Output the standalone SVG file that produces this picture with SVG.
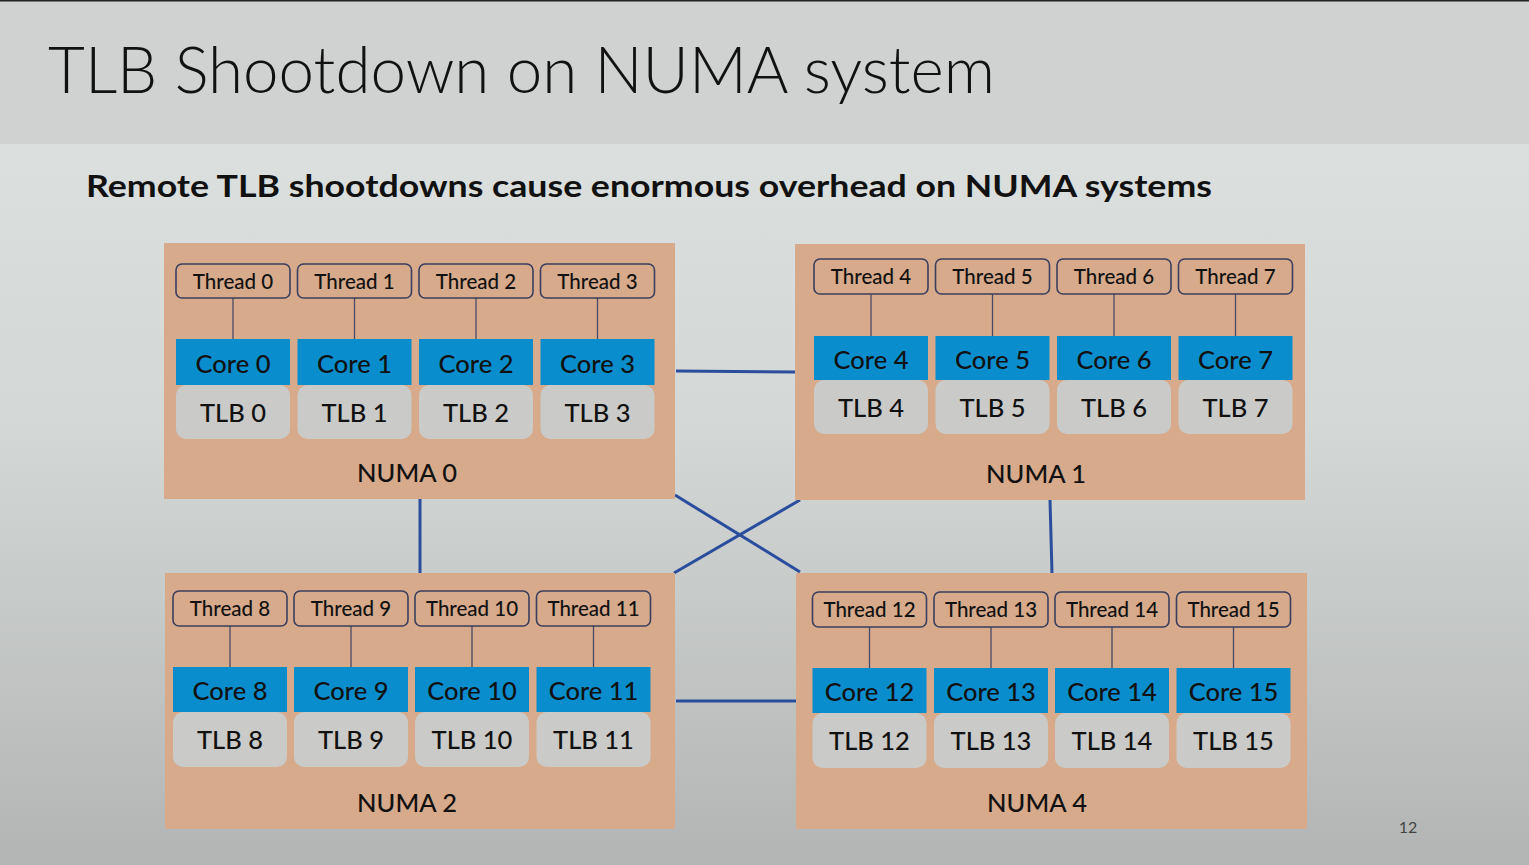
<svg xmlns="http://www.w3.org/2000/svg" width="1529" height="865" viewBox="0 0 1529 865">
<defs>
<linearGradient id="bg" x1="0" y1="0" x2="0" y2="1">
<stop offset="0" stop-color="#dfe3e1"/>
<stop offset="0.5" stop-color="#d3d7d5"/>
<stop offset="1" stop-color="#b2b5b3"/>
</linearGradient>
<style>
.numa{fill:#d6aa8b}
.thr{fill:#d6aa8b;stroke:#3b3f5e;stroke-width:1.6}
.core{fill:#0a8dcc}
.tlb{fill:#cacac8}
.lk{stroke:#4a4a66;stroke-width:1.3}
.t{font-family:Lato,"Noto Sans",sans-serif;font-weight:500;fill:#111;text-anchor:middle}
.ts{font-size:20.5px}
.tc{font-size:25.5px}
.tn{font-size:25.5px}
.conn{stroke:#2a4e9d;stroke-width:3;fill:none}
</style>
</defs>
<rect x="0" y="0" width="1529" height="865" fill="url(#bg)"/>
<rect x="0" y="0" width="1529" height="144" fill="#cfd2d0"/>
<rect x="0" y="0" width="1529" height="1.5" fill="#222"/>
<text x="48" y="93" font-family="Lato,'Noto Sans',sans-serif" font-weight="300" font-size="66" fill="#111" textLength="947" lengthAdjust="spacingAndGlyphs">TLB Shootdown on NUMA system</text>
<text x="86" y="197" font-family="Lato,'Noto Sans',sans-serif" font-weight="700" font-size="30" fill="#111" textLength="1126" lengthAdjust="spacingAndGlyphs">Remote TLB shootdowns cause enormous overhead on NUMA systems</text>

<g id="connectors">
<line class="conn" x1="676" y1="371" x2="795" y2="372"/>
<line class="conn" x1="676" y1="701" x2="796" y2="701"/>
<line class="conn" x1="420" y1="499" x2="420" y2="573"/>
<line class="conn" x1="1050" y1="500" x2="1052" y2="573"/>
<line class="conn" x1="675" y1="495" x2="800" y2="572"/>
<line class="conn" x1="674" y1="573" x2="800" y2="500"/>
</g>

<g id="numa0">
<rect class="numa" x="164" y="243" width="511" height="256"/>
<g id="unit0"><line class="lk" x1="233" y1="298" x2="233" y2="339"/><rect class="thr" x="176" y="264" width="114" height="34" rx="6"/><text class="t ts" x="233" y="289">Thread 0</text><rect class="tlb" x="176" y="385" width="114" height="54" rx="10"/><rect class="core" x="176" y="339" width="114" height="46"/><text class="t tc" x="233" y="373">Core 0</text><text class="t tc" x="233" y="422">TLB 0</text></g>
<g id="unit1"><line class="lk" x1="354.5" y1="298" x2="354.5" y2="339"/><rect class="thr" x="297.5" y="264" width="114" height="34" rx="6"/><text class="t ts" x="354.5" y="289">Thread 1</text><rect class="tlb" x="297.5" y="385" width="114" height="54" rx="10"/><rect class="core" x="297.5" y="339" width="114" height="46"/><text class="t tc" x="354.5" y="373">Core 1</text><text class="t tc" x="354.5" y="422">TLB 1</text></g>
<g id="unit2"><line class="lk" x1="476" y1="298" x2="476" y2="339"/><rect class="thr" x="419" y="264" width="114" height="34" rx="6"/><text class="t ts" x="476" y="289">Thread 2</text><rect class="tlb" x="419" y="385" width="114" height="54" rx="10"/><rect class="core" x="419" y="339" width="114" height="46"/><text class="t tc" x="476" y="373">Core 2</text><text class="t tc" x="476" y="422">TLB 2</text></g>
<g id="unit3"><line class="lk" x1="597.5" y1="298" x2="597.5" y2="339"/><rect class="thr" x="540.5" y="264" width="114" height="34" rx="6"/><text class="t ts" x="597.5" y="289">Thread 3</text><rect class="tlb" x="540.5" y="385" width="114" height="54" rx="10"/><rect class="core" x="540.5" y="339" width="114" height="46"/><text class="t tc" x="597.5" y="373">Core 3</text><text class="t tc" x="597.5" y="422">TLB 3</text></g>
<text class="t tn" x="407" y="482">NUMA 0</text>
</g>

<g id="numa1">
<rect class="numa" x="795" y="244" width="510" height="256"/>
<g id="unit4"><line class="lk" x1="871" y1="294" x2="871" y2="336"/><rect class="thr" x="814" y="259" width="114" height="35" rx="6"/><text class="t ts" x="871" y="284">Thread 4</text><rect class="tlb" x="814" y="380" width="114" height="54" rx="10"/><rect class="core" x="814" y="336" width="114" height="44"/><text class="t tc" x="871" y="369">Core 4</text><text class="t tc" x="871" y="417">TLB 4</text></g>
<g id="unit5"><line class="lk" x1="992.5" y1="294" x2="992.5" y2="336"/><rect class="thr" x="935.5" y="259" width="114" height="35" rx="6"/><text class="t ts" x="992.5" y="284">Thread 5</text><rect class="tlb" x="935.5" y="380" width="114" height="54" rx="10"/><rect class="core" x="935.5" y="336" width="114" height="44"/><text class="t tc" x="992.5" y="369">Core 5</text><text class="t tc" x="992.5" y="417">TLB 5</text></g>
<g id="unit6"><line class="lk" x1="1114" y1="294" x2="1114" y2="336"/><rect class="thr" x="1057" y="259" width="114" height="35" rx="6"/><text class="t ts" x="1114" y="284">Thread 6</text><rect class="tlb" x="1057" y="380" width="114" height="54" rx="10"/><rect class="core" x="1057" y="336" width="114" height="44"/><text class="t tc" x="1114" y="369">Core 6</text><text class="t tc" x="1114" y="417">TLB 6</text></g>
<g id="unit7"><line class="lk" x1="1235.5" y1="294" x2="1235.5" y2="336"/><rect class="thr" x="1178.5" y="259" width="114" height="35" rx="6"/><text class="t ts" x="1235.5" y="284">Thread 7</text><rect class="tlb" x="1178.5" y="380" width="114" height="54" rx="10"/><rect class="core" x="1178.5" y="336" width="114" height="44"/><text class="t tc" x="1235.5" y="369">Core 7</text><text class="t tc" x="1235.5" y="417">TLB 7</text></g>
<text class="t tn" x="1036" y="483">NUMA 1</text>
</g>

<g id="numa2">
<rect class="numa" x="165" y="573" width="510" height="256"/>
<g id="unit8"><line class="lk" x1="230" y1="626" x2="230" y2="667"/><rect class="thr" x="173" y="591" width="114" height="35" rx="6"/><text class="t ts" x="230" y="616">Thread 8</text><rect class="tlb" x="173" y="712" width="114" height="55" rx="10"/><rect class="core" x="173" y="667" width="114" height="45"/><text class="t tc" x="230" y="700">Core 8</text><text class="t tc" x="230" y="749">TLB 8</text></g>
<g id="unit9"><line class="lk" x1="351" y1="626" x2="351" y2="667"/><rect class="thr" x="294" y="591" width="114" height="35" rx="6"/><text class="t ts" x="351" y="616">Thread 9</text><rect class="tlb" x="294" y="712" width="114" height="55" rx="10"/><rect class="core" x="294" y="667" width="114" height="45"/><text class="t tc" x="351" y="700">Core 9</text><text class="t tc" x="351" y="749">TLB 9</text></g>
<g id="unit10"><line class="lk" x1="472" y1="626" x2="472" y2="667"/><rect class="thr" x="415" y="591" width="114" height="35" rx="6"/><text class="t ts" x="472" y="616">Thread 10</text><rect class="tlb" x="415" y="712" width="114" height="55" rx="10"/><rect class="core" x="415" y="667" width="114" height="45"/><text class="t tc" x="472" y="700">Core 10</text><text class="t tc" x="472" y="749">TLB 10</text></g>
<g id="unit11"><line class="lk" x1="593.5" y1="626" x2="593.5" y2="667"/><rect class="thr" x="536.5" y="591" width="114" height="35" rx="6"/><text class="t ts" x="593.5" y="616">Thread 11</text><rect class="tlb" x="536.5" y="712" width="114" height="55" rx="10"/><rect class="core" x="536.5" y="667" width="114" height="45"/><text class="t tc" x="593.5" y="700">Core 11</text><text class="t tc" x="593.5" y="749">TLB 11</text></g>
<text class="t tn" x="407" y="812">NUMA 2</text>
</g>

<g id="numa4">
<rect class="numa" x="796" y="573" width="511" height="256"/>
<g id="unit12"><line class="lk" x1="869.5" y1="627" x2="869.5" y2="668"/><rect class="thr" x="812.5" y="592" width="114" height="35" rx="6"/><text class="t ts" x="869.5" y="617">Thread 12</text><rect class="tlb" x="812.5" y="713" width="114" height="55" rx="10"/><rect class="core" x="812.5" y="668" width="114" height="45"/><text class="t tc" x="869.5" y="701">Core 12</text><text class="t tc" x="869.5" y="750">TLB 12</text></g>
<g id="unit13"><line class="lk" x1="991" y1="627" x2="991" y2="668"/><rect class="thr" x="934" y="592" width="114" height="35" rx="6"/><text class="t ts" x="991" y="617">Thread 13</text><rect class="tlb" x="934" y="713" width="114" height="55" rx="10"/><rect class="core" x="934" y="668" width="114" height="45"/><text class="t tc" x="991" y="701">Core 13</text><text class="t tc" x="991" y="750">TLB 13</text></g>
<g id="unit14"><line class="lk" x1="1112" y1="627" x2="1112" y2="668"/><rect class="thr" x="1055" y="592" width="114" height="35" rx="6"/><text class="t ts" x="1112" y="617">Thread 14</text><rect class="tlb" x="1055" y="713" width="114" height="55" rx="10"/><rect class="core" x="1055" y="668" width="114" height="45"/><text class="t tc" x="1112" y="701">Core 14</text><text class="t tc" x="1112" y="750">TLB 14</text></g>
<g id="unit15"><line class="lk" x1="1233.5" y1="627" x2="1233.5" y2="668"/><rect class="thr" x="1176.5" y="592" width="114" height="35" rx="6"/><text class="t ts" x="1233.5" y="617">Thread 15</text><rect class="tlb" x="1176.5" y="713" width="114" height="55" rx="10"/><rect class="core" x="1176.5" y="668" width="114" height="45"/><text class="t tc" x="1233.5" y="701">Core 15</text><text class="t tc" x="1233.5" y="750">TLB 15</text></g>
<text class="t tn" x="1037" y="812">NUMA 4</text>
</g>

<text x="1408" y="833" font-family="Lato,'Noto Sans',sans-serif" font-size="16" fill="#444" text-anchor="middle">12</text>
</svg>
